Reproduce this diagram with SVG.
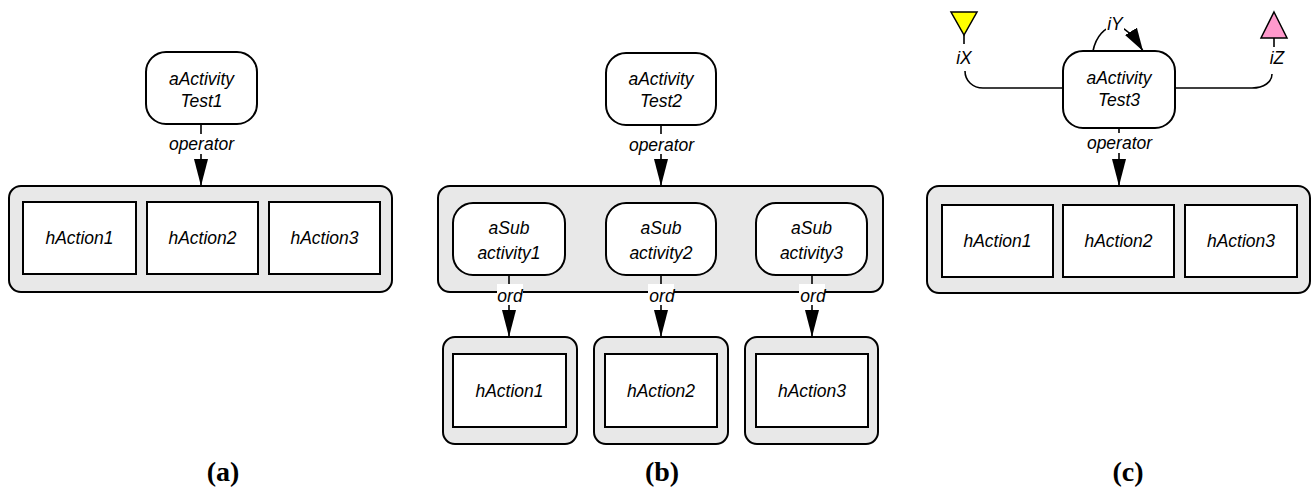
<svg xmlns="http://www.w3.org/2000/svg" width="1312" height="491" viewBox="0 0 1312 491">
<style>
  .cont{fill:#e8e8e8;stroke:#000;stroke-width:2}
  .act{fill:#fff;stroke:#000;stroke-width:2}
  .box{fill:#fff;stroke:#000;stroke-width:2}
  .t{font-family:"Liberation Sans",Arial,sans-serif;font-style:italic;font-size:17.5px;fill:#000;text-anchor:middle}
  .cap{font-family:"Liberation Serif","Times New Roman",serif;font-weight:bold;font-size:28px;fill:#000;text-anchor:middle}
  .ln{fill:none;stroke:#000;stroke-width:1.6}
  .bg{fill:#fff;stroke:none}
</style>
<defs>
  <marker id="ah" markerUnits="userSpaceOnUse" markerWidth="28" markerHeight="16" refX="27" refY="7" orient="auto" viewBox="0 0 28 14">
    <path d="M0,0 L27,7 L0,14 z" fill="#000"/>
  </marker>
  <marker id="ahs" markerUnits="userSpaceOnUse" markerWidth="24" markerHeight="16" refX="23" refY="7" orient="auto" viewBox="0 0 24 14">
    <path d="M0,0 L23,7 L0,14 z" fill="#000"/>
  </marker>
</defs>

<!-- (a) -->
<g id="a-container">
  <rect class="cont" x="9" y="186" width="383" height="106" rx="12"/>
</g>
<g id="a-hAction1"><rect class="box" x="23" y="202" width="113" height="72"/><text class="t" x="79.5" y="244">hAction1</text></g>
<g id="a-hAction2"><rect class="box" x="147" y="202" width="111" height="72"/><text class="t" x="202.5" y="244">hAction2</text></g>
<g id="a-hAction3"><rect class="box" x="269" y="202" width="111" height="72"/><text class="t" x="324.5" y="244">hAction3</text></g>
<g id="a-activity"><rect class="act" x="146" y="52" width="111" height="72" rx="20"/><text class="t" x="201.5" y="85">aActivity</text><text class="t" x="201.5" y="107">Test1</text></g>

<!-- (b) -->
<g id="b-container"><rect class="cont" x="438" y="186" width="445" height="106" rx="12"/></g>
<g id="b-sub1"><rect class="act" x="453" y="203" width="112" height="72" rx="20"/><text class="t" x="509" y="234">aSub</text><text class="t" x="509" y="259">activity1</text></g>
<g id="b-sub2"><rect class="act" x="606" y="203" width="110" height="72" rx="20"/><text class="t" x="661" y="234">aSub</text><text class="t" x="661" y="259">activity2</text></g>
<g id="b-sub3"><rect class="act" x="756" y="203" width="111" height="72" rx="20"/><text class="t" x="811.5" y="234">aSub</text><text class="t" x="811.5" y="259">activity3</text></g>
<g id="b-activity"><rect class="act" x="606" y="53" width="110" height="72" rx="20"/><text class="t" x="661" y="85">aActivity</text><text class="t" x="661" y="107">Test2</text></g>
<g id="b-hAction1"><rect class="cont" x="443" y="337" width="134" height="107" rx="12"/><rect class="box" x="453" y="354" width="113" height="73"/><text class="t" x="509.5" y="397">hAction1</text></g>
<g id="b-hAction2"><rect class="cont" x="594" y="337" width="134" height="107" rx="12"/><rect class="box" x="605" y="354" width="112" height="73"/><text class="t" x="661" y="397">hAction2</text></g>
<g id="b-hAction3"><rect class="cont" x="745" y="337" width="133" height="107" rx="12"/><rect class="box" x="756" y="354" width="112" height="73"/><text class="t" x="812" y="397">hAction3</text></g>

<!-- (c) -->
<g id="c-container"><rect class="cont" x="927" y="186" width="383" height="107" rx="12"/></g>
<g id="c-hAction1"><rect class="box" x="942" y="205" width="111" height="72"/><text class="t" x="997.5" y="247">hAction1</text></g>
<g id="c-hAction2"><rect class="box" x="1063" y="205" width="111" height="72"/><text class="t" x="1118.5" y="247">hAction2</text></g>
<g id="c-hAction3"><rect class="box" x="1185" y="205" width="112" height="72"/><text class="t" x="1241" y="247">hAction3</text></g>
<g id="c-activity"><rect class="act" x="1063" y="51" width="112" height="77" rx="20"/><text class="t" x="1119" y="84">aActivity</text><text class="t" x="1119" y="106">Test3</text></g>
<g id="c-iX"><polygon points="951,12 977,12 964,35" fill="#ffff00" stroke="#000" stroke-width="1.5"/><line class="ln" x1="964" y1="35" x2="964" y2="44"/></g>
<g id="c-iZ"><polygon points="1274,12 1287,38 1261,38" fill="#ff99cc" stroke="#000" stroke-width="1.5"/><line class="ln" x1="1274" y1="38" x2="1274" y2="47"/></g>

<!-- connectors -->
<g id="connectors">
  <line class="ln" x1="201" y1="124" x2="201" y2="186" marker-end="url(#ah)"/>
  <rect class="bg" x="167" y="134" width="70" height="20"/>
  <text class="t" x="201.5" y="150">operator</text>

  <line class="ln" x1="661" y1="125" x2="661" y2="186" marker-end="url(#ah)"/>
  <rect class="bg" x="627" y="134" width="70" height="20"/>
  <text class="t" x="661.5" y="151">operator</text>

  <line class="ln" x1="509" y1="275" x2="509" y2="337" marker-end="url(#ah)"/>
  <rect class="bg" x="497" y="284" width="26" height="21"/>
  <text class="t" x="510" y="302">ord</text>
  <line class="ln" x1="661" y1="275" x2="661" y2="337" marker-end="url(#ah)"/>
  <rect class="bg" x="648" y="284" width="26" height="21"/>
  <text class="t" x="662" y="302">ord</text>
  <line class="ln" x1="812" y1="275" x2="812" y2="337" marker-end="url(#ah)"/>
  <rect class="bg" x="799" y="284" width="26" height="21"/>
  <text class="t" x="813" y="302">ord</text>

  <line class="ln" x1="1119" y1="128" x2="1119" y2="186" marker-end="url(#ah)"/>
  <rect class="bg" x="1085" y="133" width="70" height="20"/>
  <text class="t" x="1119.5" y="149">operator</text>

  <path class="ln" d="M965,71 C965,81 973,88 983,88 H1063"/>
  <rect class="bg" x="952" y="48" width="24" height="20"/>
  <text class="t" x="964" y="64">iX</text>

  <path class="ln" d="M1272,74 C1272,82 1264,88 1252,88 H1175"/>
  <rect class="bg" x="1265" y="48" width="24" height="20"/>
  <text class="t" x="1277" y="64">iZ</text>

  <path class="ln" d="M1093,51 C1096,36 1105,27 1115,26 C1125,26 1135,38 1143,51" marker-end="url(#ahs)"/>
  <rect class="bg" x="1106" y="16" width="18" height="15"/>
  <text class="t" x="1115" y="30">iY</text>
</g>

<g id="captions">
  <text class="cap" x="223" y="481">(a)</text>
  <text class="cap" x="662" y="481">(b)</text>
  <text class="cap" x="1128" y="481">(c)</text>
</g>
</svg>
